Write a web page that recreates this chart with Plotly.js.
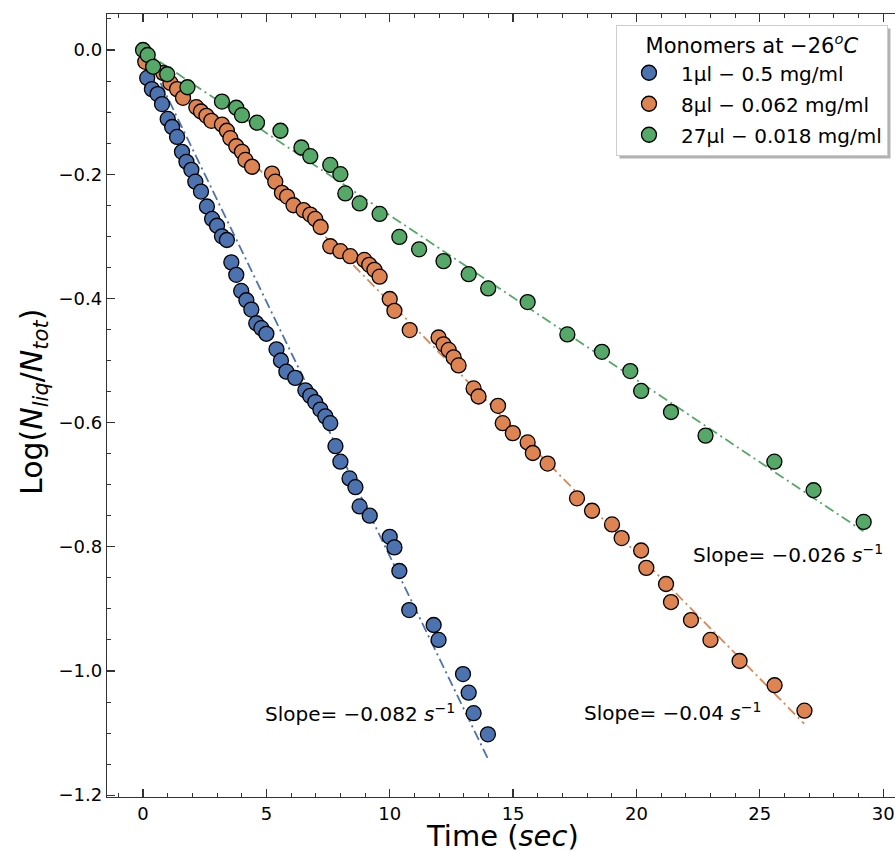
<!DOCTYPE html>
<html>
<head>
<meta charset="utf-8">
<script src="https://cdn.plot.ly/plotly-3.0.1.min.js"></script>
<style>
  html, body { margin: 0; padding: 0; background: #fff; overflow: hidden; }
  #chart { width: 895px; height: 852px; }
</style>
</head>
<body>
<div id="chart"></div>
<script>
// ---- data ----
const seriesNames = ["1\u00b5l \u2212 0.5 mg/ml", "8\u00b5l \u2212 0.062 mg/ml", "27\u00b5l \u2212 0.018 mg/ml"];

const blueT = [0.17,0.36,0.59,0.77,1.00,1.18,1.38,1.58,1.76,1.96,2.12,2.35,2.59,2.80,3.00,3.20,3.40,3.58,3.78,3.98,4.19,4.39,4.59,4.80,5.00,5.41,5.59,5.81,6.17,6.58,6.78,6.98,7.19,7.39,7.59,7.80,8.00,8.37,8.61,8.78,9.19,10.00,10.19,10.39,10.79,11.78,11.98,12.97,13.20,13.40,13.98];
const blueY = [-0.045,-0.063,-0.071,-0.087,-0.111,-0.124,-0.140,-0.164,-0.180,-0.193,-0.212,-0.228,-0.252,-0.272,-0.283,-0.300,-0.306,-0.342,-0.362,-0.388,-0.403,-0.418,-0.440,-0.448,-0.457,-0.482,-0.500,-0.518,-0.528,-0.548,-0.557,-0.567,-0.579,-0.590,-0.601,-0.638,-0.663,-0.690,-0.704,-0.735,-0.750,-0.784,-0.801,-0.839,-0.902,-0.926,-0.950,-1.005,-1.035,-1.068,-1.102];

const orangeT = [0.09,0.82,1.11,1.38,1.62,2.16,2.35,2.57,2.77,3.20,3.40,3.54,3.78,4.01,4.15,4.42,5.23,5.36,5.63,5.84,6.10,6.51,6.78,6.98,7.20,7.59,8.00,8.40,8.97,9.17,9.38,9.59,10.00,10.19,10.81,11.98,12.18,12.39,12.59,12.79,13.40,13.60,14.39,14.58,14.99,15.59,15.80,16.40,17.59,18.20,19.01,19.40,20.19,20.40,21.20,21.40,22.21,23.00,24.18,25.60,26.81];
const orangeY = [-0.019,-0.037,-0.053,-0.063,-0.077,-0.092,-0.099,-0.106,-0.114,-0.120,-0.130,-0.142,-0.155,-0.164,-0.177,-0.188,-0.199,-0.212,-0.230,-0.236,-0.250,-0.258,-0.265,-0.272,-0.285,-0.316,-0.324,-0.332,-0.338,-0.346,-0.354,-0.365,-0.401,-0.420,-0.451,-0.463,-0.474,-0.483,-0.495,-0.508,-0.545,-0.558,-0.573,-0.601,-0.617,-0.632,-0.649,-0.666,-0.722,-0.742,-0.764,-0.786,-0.806,-0.834,-0.860,-0.889,-0.918,-0.950,-0.984,-1.023,-1.064];

const greenT = [0.00,0.19,0.41,0.98,1.80,3.20,3.78,4.01,4.62,5.57,6.42,6.78,7.59,8.00,8.20,8.78,9.59,10.39,11.19,12.18,13.20,13.99,15.59,17.20,18.60,19.75,20.19,21.40,22.80,25.59,27.18,29.21];
const greenY = [0.000,-0.008,-0.027,-0.039,-0.060,-0.083,-0.093,-0.105,-0.117,-0.130,-0.157,-0.171,-0.185,-0.200,-0.231,-0.247,-0.264,-0.301,-0.321,-0.340,-0.361,-0.384,-0.406,-0.458,-0.486,-0.517,-0.549,-0.583,-0.621,-0.663,-0.709,-0.760];

// fitted lines (end points)
const blueFitT = [0, 14.0],   blueFitY = [0.005, -1.143];
const orangeFitT = [0, 26.8], orangeFitY = [-0.002, -1.085];
const greenFitT = [0, 29.2],  greenFitY = [-0.001, -0.775];

const slopeLabels = ["Slope= \u22120.082 <i>s</i><sup>\u22121</sup>", "Slope= \u22120.04 <i>s</i><sup>\u22121</sup>", "Slope= \u22120.026 <i>s</i><sup>\u22121</sup>"];
const slopePosT = [4.87, 17.78, 22.23];
const slopePosY = [-1.068, -1.066, -0.811];

const xTitle = "Time (<i>sec</i>)";
const yTitle = "Log(<i>N</i><sub><i>liq</i></sub>/<i>N</i><sub><i>tot</i></sub>)";
const legendTitle = "Monomers at \u221226<sup><i>o</i></sup><i>C</i>";

// ---- styling ----
const colors = ["#4C72B0", "#DD8452", "#55A868"];
const FONT = "DejaVu Sans, sans-serif";

function fitTrace(t, y, c) {
  return { x: t, y: y, mode: "lines", type: "scatter", showlegend: false, hoverinfo: "skip",
           line: { color: c, width: 1.8, dash: "10px,4px,2px,4px" } };
}
function markerTrace(t, y, c, name, g) {
  return { x: t, y: y, mode: "markers", type: "scatter", name: name, legendgroup: g,
           marker: { color: c, size: 15, line: { color: "#000", width: 1.3 } } };
}

const data = [
  fitTrace(blueFitT, blueFitY, colors[0]),
  fitTrace(orangeFitT, orangeFitY, colors[1]),
  fitTrace(greenFitT, greenFitY, colors[2]),
  markerTrace(blueT, blueY, colors[0], seriesNames[0], "a"),
  markerTrace(orangeT, orangeY, colors[1], seriesNames[1], "b"),
  markerTrace(greenT, greenY, colors[2], seriesNames[2], "c")
];

const M = { l: 107, r: 0, t: 14, b: 55 };
const W = 895, H = 852;
const PW = W - M.l - M.r, PH = H - M.t - M.b;
// pixel -> paper helpers for title placement
const px2paperX = (p) => (p - M.l) / PW;
const px2paperY = (p) => 1 - (p - M.t) / PH;

const annotations = slopeLabels.map((s, i) => ({
  x: slopePosT[i], y: slopePosY[i], xref: "x", yref: "y", text: s, showarrow: false,
  xanchor: "left", yanchor: "middle", font: { family: FONT, size: 20, color: "#000" }
}));
annotations.push({
  x: px2paperX(503), y: px2paperY(836), xref: "paper", yref: "paper", text: xTitle, showarrow: false,
  xanchor: "center", yanchor: "middle", font: { family: FONT, size: 29, color: "#000" }
});
annotations.push({
  x: px2paperX(33), y: px2paperY(402), xref: "paper", yref: "paper", text: yTitle, showarrow: false,
  textangle: -90, xanchor: "center", yanchor: "middle", font: { family: FONT, size: 30, color: "#000" }
});

const axisCommon = {
  showgrid: false, zeroline: false, showline: true, linecolor: "#333", linewidth: 1.2,
  ticks: "inside", ticklen: 8, tickwidth: 1.2, tickcolor: "#333",
  tickfont: { family: FONT, size: 18, color: "#000" }
};

const layout = {
  width: W, height: H,
  margin: M,
  paper_bgcolor: "#fff", plot_bgcolor: "#fff",
  font: { family: FONT, color: "#000" },
  xaxis: Object.assign({}, axisCommon, {
    range: [-1.46, 30.48], dtick: 5, tick0: 0, mirror: "allticks",
    minor: { dtick: 1, ticks: "inside", ticklen: 4, tickwidth: 1, tickcolor: "#333" }
  }),
  yaxis: Object.assign({}, axisCommon, {
    range: [-1.203, 0.058], dtick: 0.2, tick0: 0, tickformat: ".1f",
    minor: { dtick: 0.05, ticks: "inside", ticklen: 4, tickwidth: 1, tickcolor: "#333" }
  }),
  legend: {
    x: 0.9911, y: 0.986, xanchor: "right", yanchor: "top",
    bgcolor: "#fff", bordercolor: "#cccccc", borderwidth: 1,
    traceorder: "grouped", tracegroupgap: 2, itemwidth: 54,
    font: { family: FONT, size: 20, color: "#000" },
    title: { text: legendTitle, side: "top center", font: { family: FONT, size: 21, color: "#000" } }
  },
  annotations: annotations
};

Plotly.newPlot("chart", data, layout, { displayModeBar: false, staticPlot: true }).then(function (gd) {
  const bg = document.querySelector(".legend .bg");
  if (!bg) return;
  const r = bg.getBoundingClientRect();
  const c = document.getElementById("chart").getBoundingClientRect();
  const off = 3;
  const left = r.left - c.left + off, right = r.right - c.left + off;
  const top = r.top - c.top + off, bottom = r.bottom - c.top + off;
  const shadow = { type: "rect", xref: "paper", yref: "paper", layer: "above",
    x0: px2paperX(left), x1: px2paperX(right),
    y0: px2paperY(bottom), y1: px2paperY(top),
    fillcolor: "rgba(0,0,0,0.3)", line: { width: 0 } };
  return Plotly.relayout(gd, { shapes: [shadow] });
});
</script>
</body>
</html>
